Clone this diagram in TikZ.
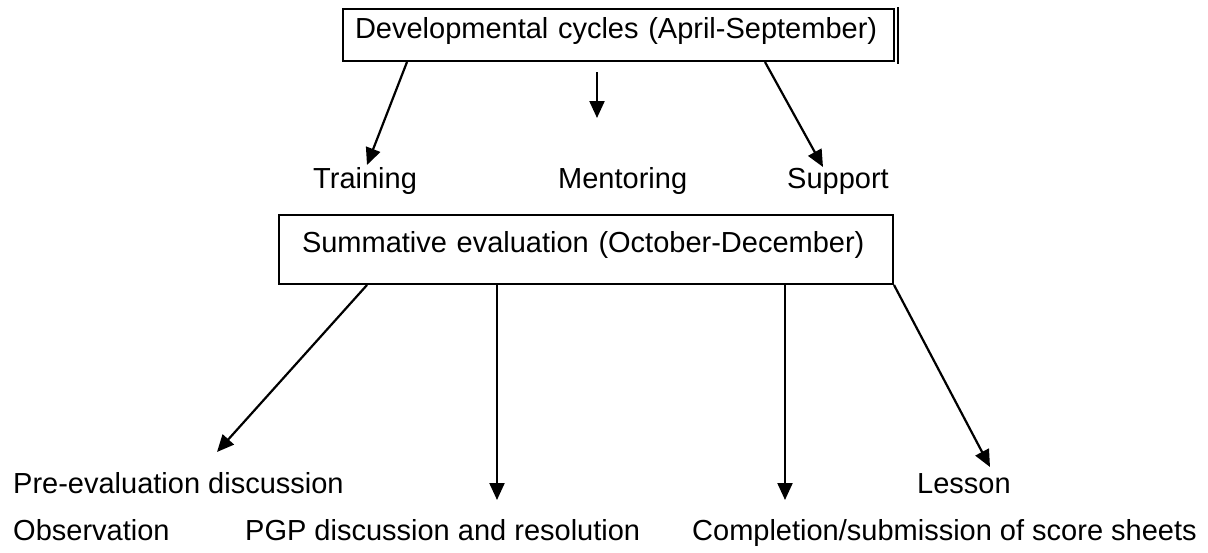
\documentclass[tikz,border=0pt]{standalone}
\usepackage{fontspec}
\setmainfont{Liberation Sans}
\usetikzlibrary{arrows.meta,calc}
\begin{document}
\begin{tikzpicture}[x=1pt,y=-1pt,
  every node/.style={font=\fontsize{29}{34}\selectfont, inner sep=0pt},
  box/.style={draw, line width=2pt, align=left},
  lbl/.style={anchor=base west},
  arr/.style={line width=2.2pt, -{Triangle[length=17pt,width=15pt]}}]
\useasboundingbox[fill=white] (0,0) rectangle (1208,552);

% boxes
\node[box, minimum width=551pt, minimum height=52pt, text width=527pt, inner xsep=12pt,
      text height=21pt, text depth=15pt] (dev) at (618.5,35) {Developmental cycles (April-September)};
\draw[line width=2pt] ($(dev.north east)+(3,-1)$) coordinate (dx1) -- ($(dev.south east)+(3,2)$) coordinate (dx2);

\node[box, minimum width=614pt, minimum height=69pt, text width=568pt, inner xsep=23pt,
      text height=20pt, text depth=15pt] (sum) at (586,249.5) {Summative evaluation (October-December)};

% labels
\node[lbl] (train) at (313,188) {Training};
\node[lbl] (ment)  at (558,188) {Mentoring};
\node[lbl] (supp)  at (787,188) {Support};
\node[lbl] (pre)   at (13,493) {Pre-evaluation discussion};
\node[lbl] (less)  at (917,493) {Lesson};
\node[lbl] (obs)   at (13,540) {Observation};
\node[lbl] (pgp)   at (245,540) {PGP discussion and resolution};
\node[lbl] (comp)  at (692,540) {Completion/submission of score sheets};

% arrow end points
\coordinate (a1) at ($(dev.south west)!(407,0)!(dev.south east)$);
\coordinate (t1) at (367,165);
\coordinate (m0) at (597,72);
\coordinate (m1) at (597,118);
\coordinate (a3) at ($(dev.south west)!(765,0)!(dev.south east)$);
\coordinate (t3) at (823,167);

\coordinate (b1) at ($(sum.south west)!(367,0)!(sum.south east)$);
\coordinate (u1) at (217,452);
\coordinate (b2) at ($(sum.south west)!(497,0)!(sum.south east)$);
\coordinate (u2) at (497,500);
\coordinate (b3) at ($(sum.south west)!(785,0)!(sum.south east)$);
\coordinate (u3) at (785,500);
\coordinate (u4) at (990,467);

% arrows
\draw[arr] (a1) -- (t1);
\draw[arr] (m0) -- (m1);
\draw[arr] (a3) -- (t3);
\draw[arr] (b1) -- (u1);
\draw[arr] (b2) -- (u2);
\draw[arr] (b3) -- (u3);
\draw[arr] (sum.south east) -- (u4);
\end{tikzpicture}
\end{document}
